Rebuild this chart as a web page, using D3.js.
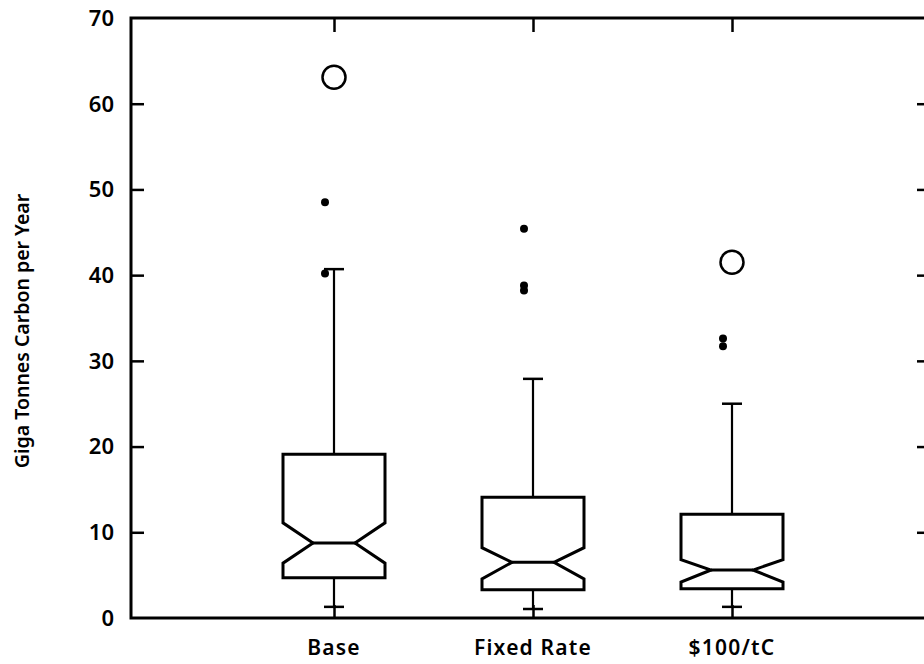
<!DOCTYPE html>
<html><head><meta charset="utf-8">
<script src="https://cdn.jsdelivr.net/npm/d3@7"></script>
<style>body{margin:0;background:#fff}svg{display:block}</style>
</head><body>
<svg id="c" width="924" height="664"></svg>
<script>
const categories = ["Base", "Fixed Rate", "$100/tC"];
const whiskerLow  = [1.3, 1.05, 1.3];
const q1          = [4.7, 3.3, 3.4];
const notchLow    = [6.4, 4.55, 4.2];
const median      = [8.75, 6.5, 5.6];
const notchHigh   = [11.1, 8.2, 6.8];
const q3          = [19.1, 14.1, 12.1];
const whiskerHigh = [40.7, 27.9, 25.0];
const outlierDots    = [[48.5, 40.2], [45.4, 38.8, 38.2], [32.6, 31.7]];
const outlierCircles = [[63.1], [], [41.5]];
const yTicks = [0, 10, 20, 30, 40, 50, 60, 70];

(function () {
const svg = d3.select("#c");
const font = "'Noto Sans', sans-serif";
const pL = 131, pR = 930, pT = 18, pB = 618;
const y = d3.scaleLinear().domain([0, 70]).range([pB, pT]);
const x = d3.scaleLinear().domain([0, 4]).range([135, 931]);
const halfW = 51, inset = 30, capW = 10, tickLen = 13;

const g = svg.append("g");
g.append("g").attr("transform", `translate(${pL},0)`)
  .call(d3.axisRight(y).tickValues(yTicks.slice(1, -1)).tickSize(tickLen).tickFormat(""))
  .call(a => a.select(".domain").remove())
  .selectAll("line").attr("stroke", "#000").attr("stroke-width", 2.5);
g.append("g").attr("transform", `translate(${pR},0)`)
  .call(d3.axisLeft(y).tickValues(yTicks.slice(1, -1)).tickSize(tickLen).tickFormat(""))
  .call(a => a.select(".domain").remove())
  .selectAll("line").attr("stroke", "#000").attr("stroke-width", 2.5);
g.append("g").attr("transform", `translate(0,${pT})`)
  .call(d3.axisBottom(x).tickValues([1, 2, 3]).tickSize(tickLen + 1).tickFormat(""))
  .call(a => a.select(".domain").remove())
  .selectAll("line").attr("stroke", "#000").attr("stroke-width", 2.5);
g.append("g").attr("transform", `translate(0,${pB})`)
  .call(d3.axisTop(x).tickValues([1, 2, 3]).tickSize(tickLen).tickFormat(""))
  .call(a => a.select(".domain").remove())
  .selectAll("line").attr("stroke", "#000").attr("stroke-width", 2.5);

svg.append("rect").attr("x", pL).attr("y", pT)
  .attr("width", pR - pL).attr("height", pB - pT)
  .attr("fill", "none").attr("stroke", "#000").attr("stroke-width", 3);

svg.append("g").selectAll("text").data(yTicks).join("text")
  .attr("x", 114).attr("y", d => y(d)).attr("dy", "0.36em")
  .attr("text-anchor", "end").attr("font-family", font)
  .attr("font-size", 22).attr("font-weight", 600).text(d => d);

svg.append("g").selectAll("text").data(categories).join("text")
  .attr("x", (d, i) => x(i + 1)).attr("y", 655)
  .attr("text-anchor", "middle").attr("font-family", font)
  .attr("font-size", 21).attr("font-weight", 600).attr("letter-spacing", 1.2).text(d => d);

svg.append("text").attr("transform", "translate(29,331) rotate(-90)")
  .attr("text-anchor", "middle").attr("font-family", font)
  .attr("font-size", 19.5).attr("font-weight", 600)
  .text("Giga Tonnes Carbon per Year");

categories.forEach((c, i) => {
  const cx = x(i + 1), L = cx - halfW, R = cx + halfW;
  const bg = svg.append("g").attr("fill", "none").attr("stroke", "#000");
  bg.append("line").attr("x1", cx).attr("x2", cx).attr("y1", y(q3[i])).attr("y2", y(whiskerHigh[i])).attr("stroke-width", 2.2);
  bg.append("line").attr("x1", cx).attr("x2", cx).attr("y1", y(q1[i])).attr("y2", y(whiskerLow[i])).attr("stroke-width", 2.2);
  bg.append("line").attr("x1", cx - capW).attr("x2", cx + capW).attr("y1", y(whiskerHigh[i])).attr("y2", y(whiskerHigh[i])).attr("stroke-width", 2.5);
  bg.append("line").attr("x1", cx - capW).attr("x2", cx + capW).attr("y1", y(whiskerLow[i])).attr("y2", y(whiskerLow[i])).attr("stroke-width", 2.5);
  const pts = [
    [L, y(q3[i])], [R, y(q3[i])], [R, y(notchHigh[i])], [R - inset, y(median[i])],
    [R, y(notchLow[i])], [R, y(q1[i])], [L, y(q1[i])], [L, y(notchLow[i])],
    [L + inset, y(median[i])], [L, y(notchHigh[i])]
  ];
  bg.append("path").attr("d", d3.line()(pts) + "Z").attr("fill", "#fff").attr("stroke-width", 3).attr("stroke-linejoin", "miter");
  bg.append("line").attr("x1", L + inset).attr("x2", R - inset).attr("y1", y(median[i])).attr("y2", y(median[i])).attr("stroke-width", 3);
  bg.selectAll("circle.dot").data(outlierDots[i]).join("circle").attr("class", "dot")
    .attr("cx", cx - 9).attr("cy", d => y(d)).attr("r", 4).attr("fill", "#000").attr("stroke", "none");
  bg.selectAll("circle.far").data(outlierCircles[i]).join("circle").attr("class", "far")
    .attr("cx", cx).attr("cy", d => y(d)).attr("r", 11.5).attr("stroke-width", 2.5);
});
})();
</script>
</body></html>
